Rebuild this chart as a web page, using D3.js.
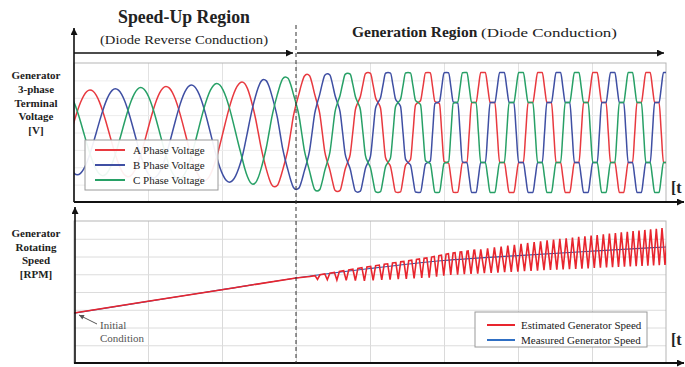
<!DOCTYPE html>
<html><head><meta charset="utf-8">
<script src="https://cdn.jsdelivr.net/npm/d3@7"></script>
<style>
body{margin:0;background:#fff}
svg{display:block}
text{font-family:"Liberation Serif","Times New Roman",serif;fill:#222}
</style>
</head><body>
<svg id="c" width="685" height="367"></svg>
<script>
// ---------------- DATA ----------------
const timeTicks = [0, 1, 2, 3, 4, 5, 6, 7, 8];            // time grid (unlabelled)
const voltTicks = [-400, -300, -200, -100, 0, 100, 200, 300, 400];
const rpmTicks  = [0, 200, 400, 600, 800, 1000, 1200, 1400, 1600];
const regionBoundary = 3;                                  // dashed line (time)

// phase A positive-peak times (each starts one electrical cycle)
const peakTimesA  = [-0.811, 0.216, 1.243, 2.270, 3.149, 3.973, 4.784, 5.527, 6.297, 7.041, 7.757, 8.473];
const peakAmpV    = [235, 245, 265, 290, 335, 345, 345, 345, 345, 345, 345, 345];
const peakStepMix = [0, 0, 0, 0, 0.2, 0.55, 0.9, 1, 1, 1, 1, 1];   // 0 = sine, 1 = six-step
// normalised waveform shapes, 24 samples per cycle (15 deg apart, from the peak)
const sineShape = [1, .966, .866, .707, .5, .259, 0, -.259, -.5, -.707, -.866, -.966,
                   -1, -.966, -.866, -.707, -.5, -.259, 0, .259, .5, .707, .866, .966];
const stepShape = [1, 1, .75, .5, .5, .5, 0, -.5, -.5, -.5, -.75, -1,
                   -1, -1, -.75, -.5, -.5, -.5, 0, .5, .5, .5, .75, 1];
const phaseNames   = ["A Phase Voltage", "B Phase Voltage", "C Phase Voltage"];
const phaseLag     = [0, 8, 16];                             // in shape samples (120 deg = 8)
const phaseColors  = ["#e8393f", "#3f4fa3", "#27a066"];

// generator speed
const speedTimes   = [0, 1, 2, 3, 4, 5, 6, 7, 8];
const measuredRPM  = [563, 695, 826, 958, 1065, 1155, 1210, 1260, 1307];
const rippleTimes  = [3.189, 3.324, 3.457, 3.586, 3.712, 3.836, 3.958, 4.076, 4.192, 4.304,
  4.415, 4.523, 4.628, 4.731, 4.832, 4.931, 5.028, 5.123, 5.218, 5.311, 5.404, 5.497, 5.589,
  5.681, 5.772, 5.862, 5.951, 6.041, 6.130, 6.218, 6.305, 6.393, 6.480, 6.565, 6.651, 6.736,
  6.820, 6.904, 6.988, 7.070, 7.153, 7.235, 7.316, 7.396, 7.477, 7.555, 7.635, 7.714, 7.792,
  7.869, 7.946, 8.023];
const envTimes    = [3.19, 3.9, 4.81, 5.08, 6.43, 7.96];
const envUpperRPM = [975, 1075, 1190, 1235, 1386, 1521];
const envLowerRPM = [945, 925, 962, 992, 1048, 1104];
const speedNames  = ["Estimated Generator Speed", "Measured Generator Speed"];
const speedColors = ["#e8252e", "#2f6fc4"];

// ---------------- CHART ----------------
const svg = d3.select("#c");
const x  = d3.scaleLinear([0, 8], [74, 666]);
const yV = d3.scaleLinear([-400, 400], [202, 63]);
const yS = d3.scaleLinear([0, 1600], [363, 221]);

const defs = svg.append("defs");
defs.append("marker").attr("id", "ah").attr("viewBox", "0 0 10 10")
  .attr("refX", 10).attr("refY", 5).attr("markerWidth", 9).attr("markerHeight", 7)
  .attr("markerUnits", "userSpaceOnUse").attr("orient", "auto")
  .append("path").attr("d", "M0,0L10,5L0,10z").attr("fill", "#111");
defs.append("marker").attr("id", "ahs").attr("viewBox", "0 0 10 10")
  .attr("refX", 10).attr("refY", 5).attr("markerWidth", 6).attr("markerHeight", 5)
  .attr("markerUnits", "userSpaceOnUse").attr("orient", "auto")
  .append("path").attr("d", "M0,0L10,5L0,10z").attr("fill", "#555");
defs.append("clipPath").attr("id", "clipTop").append("rect")
  .attr("x", x(0)).attr("y", yV(400)).attr("width", x(8) - x(0)).attr("height", yV(-400) - yV(400));
defs.append("clipPath").attr("id", "clipBot").append("rect")
  .attr("x", x(0)).attr("y", yS(1600)).attr("width", x(8) - x(0)).attr("height", yS(0) - yS(1600));

// grids via axes
function grid(g, axis) {
  g.call(axis);
  g.select(".domain").remove();
  g.selectAll("text").remove();
}
svg.append("g").attr("transform", `translate(0,${yV(-400)})`)
  .call(grid, d3.axisBottom(x).tickValues(timeTicks.slice(1, -1)).tickSize(-(yV(-400) - yV(400))).tickFormat(""))
  .selectAll("line").attr("stroke", "#e2e2e2");
svg.append("g").attr("transform", `translate(${x(0)},0)`)
  .call(grid, d3.axisLeft(yV).tickValues(voltTicks.slice(1, -1)).tickSize(-(x(8) - x(0))).tickFormat(""))
  .selectAll("line").attr("stroke", "#ececec");
svg.append("g").attr("transform", `translate(0,${yS(0)})`)
  .call(grid, d3.axisBottom(x).tickValues(timeTicks.slice(1, -1)).tickSize(-(yS(0) - yS(1600))).tickFormat(""))
  .selectAll("line").attr("stroke", "#dadada");
svg.append("g").attr("transform", `translate(${x(0)},0)`)
  .call(grid, d3.axisLeft(yS).tickValues(rpmTicks.slice(1, -1)).tickSize(-(x(8) - x(0))).tickFormat(""))
  .selectAll("line").attr("stroke", "#dcdcdc");

// frames
svg.append("rect").attr("x", x(0)).attr("y", yV(400)).attr("width", x(8) - x(0)).attr("height", yV(-400) - yV(400))
  .attr("fill", "none").attr("stroke", "#b5b5b5");
svg.append("rect").attr("x", x(0)).attr("y", yS(1600)).attr("width", x(8) - x(0)).attr("height", yS(0) - yS(1600))
  .attr("fill", "none").attr("stroke", "#b5b5b5");

// ---- voltage waveforms ----
const ampAt = d3.scaleLinear(peakTimesA, peakAmpV);
const mixAt = d3.scaleLinear(peakTimesA, peakStepMix);
const vLine = d3.line().x(d => x(d.t)).y(d => yV(d.v)).curve(d3.curveMonotoneX);
const gV = svg.append("g").attr("clip-path", "url(#clipTop)");
phaseNames.forEach((name, p) => {
  const pts = [];
  for (let k = 0; k < peakTimesA.length - 1; k++) {
    const t0 = peakTimesA[k], t1 = peakTimesA[k + 1];
    for (let j = 0; j < 24; j++) {
      const t = t0 + j / 24 * (t1 - t0);
      const idx = (j - phaseLag[p] + 24) % 24;
      const m = mixAt(t);
      pts.push({t, v: ampAt(t) * ((1 - m) * sineShape[idx] + m * stepShape[idx])});
    }
  }
  gV.append("path").datum(pts).attr("d", vLine).attr("fill", "none")
    .attr("stroke", phaseColors[p]).attr("stroke-width", 1.5);
});

// ---- speed ----
const gS = svg.append("g").attr("clip-path", "url(#clipBot)");
const measured = speedTimes.map((t, i) => ({t, v: measuredRPM[i]}));
const measAt = d3.scaleLinear(speedTimes, measuredRPM);
const upAt = d3.scaleLinear(envTimes, envUpperRPM);
const lowAt = d3.scaleLinear(envTimes, envLowerRPM);
const flatAt = d3.scaleLinear([3.19, 5.0, 5.5], [0.5, 0.35, 0.05]).clamp(true);
const est = speedTimes.filter(t => t < rippleTimes[0]).map(t => ({t, v: measAt(t)}));
for (let i = 0; i < rippleTimes.length - 1; i++) {
  const t0 = rippleTimes[i], dt = rippleTimes[i + 1] - t0, f = flatAt(t0);
  est.push({t: t0, v: upAt(t0)});
  if (f > 0.08) est.push({t: t0 + f * dt, v: upAt(t0 + f * dt)});
  const tb = t0 + (f + (1 - f) / 2) * dt;
  est.push({t: tb, v: lowAt(tb)});
}
est.push({t: rippleTimes[rippleTimes.length - 1], v: upAt(rippleTimes[rippleTimes.length - 1])});
gS.append("path").datum(measured)
  .attr("d", d3.line().x(d => x(d.t)).y(d => yS(d.v)).curve(d3.curveMonotoneX))
  .attr("fill", "none").attr("stroke", "#2c55a8").attr("stroke-width", 1.2);
gS.append("path").datum(est).attr("d", d3.line().x(d => x(d.t)).y(d => yS(d.v))).attr("fill", "none")
  .attr("stroke", speedColors[0]).attr("stroke-width", 1.6);

// ---- axes arrows ----
const ax = svg.append("g").attr("stroke", "#111").attr("fill", "none");
ax.append("line").attr("x1", x(0)).attr("y1", yV(-400)).attr("x2", x(0)).attr("y2", 28)
  .attr("stroke-width", 1.6).attr("marker-end", "url(#ah)");
ax.append("line").attr("x1", x(0)).attr("y1", yV(-400)).attr("x2", 684).attr("y2", yV(-400))
  .attr("stroke-width", 2).attr("marker-end", "url(#ah)");
ax.append("line").attr("x1", x(0) + 1).attr("y1", yS(0)).attr("x2", x(0) + 1).attr("y2", 207)
  .attr("stroke-width", 1.6).attr("marker-end", "url(#ah)");
ax.append("line").attr("x1", x(0)).attr("y1", yS(0)).attr("x2", 684).attr("y2", yS(0))
  .attr("stroke-width", 2).attr("marker-end", "url(#ah)");
// region arrows
ax.append("line").attr("x1", x(0)).attr("y1", 53).attr("x2", x(regionBoundary) - 3).attr("y2", 53)
  .attr("stroke-width", 1.5).attr("marker-end", "url(#ah)");
ax.append("line").attr("x1", x(regionBoundary) + 1).attr("y1", 53).attr("x2", 664).attr("y2", 53)
  .attr("stroke-width", 1.5).attr("marker-end", "url(#ah)");
// boundary
svg.append("line").attr("x1", x(regionBoundary)).attr("x2", x(regionBoundary))
  .attr("y1", 25).attr("y2", yS(0)).attr("stroke", "#333").attr("stroke-width", 1)
  .attr("stroke-dasharray", "4,3");

// ---- texts ----
svg.append("text").attr("x", 184).attr("y", 23).attr("text-anchor", "middle")
  .attr("font-size", 17.8).attr("font-weight", "bold").text("Speed-Up Region");
svg.append("text").attr("x", 100).attr("y", 44).attr("font-size", 13)
  .attr("textLength", 168).attr("lengthAdjust", "spacingAndGlyphs").text("(Diode Reverse Conduction)");
svg.append("text").attr("x", 352).attr("y", 37).attr("font-size", 15.5).attr("font-weight", "bold")
  .text("Generation Region");
svg.append("text").attr("x", 481).attr("y", 37).attr("font-size", 12.5)
  .attr("textLength", 136).attr("lengthAdjust", "spacingAndGlyphs").text("(Diode Conduction)");

const lab1 = ["Generator", "3-phase", "Terminal", "Voltage", "[V]"];
lab1.forEach((s, i) => svg.append("text").attr("x", 36).attr("y", 79 + i * 13.8)
  .attr("text-anchor", "middle").attr("font-size", 11).attr("font-weight", "bold").text(s));
const lab2 = ["Generator", "Rotating", "Speed", "[RPM]"];
lab2.forEach((s, i) => svg.append("text").attr("x", 36).attr("y", 237 + i * 13.5)
  .attr("text-anchor", "middle").attr("font-size", 11).attr("font-weight", "bold").text(s));

svg.append("text").attr("x", 671).attr("y", 193).attr("font-size", 16).attr("font-weight", "bold").text("[t");
svg.append("text").attr("x", 671).attr("y", 345).attr("font-size", 16).attr("font-weight", "bold").text("[t");

// legends
const lg1 = svg.append("g");
lg1.append("rect").attr("x", 85).attr("y", 140).attr("width", 133).attr("height", 50)
  .attr("fill", "#fff").attr("fill-opacity", 0.92).attr("stroke", "#9a9a9a");
phaseNames.forEach((n, i) => {
  lg1.append("line").attr("x1", 95).attr("x2", 125).attr("y1", 150 + i * 15).attr("y2", 150 + i * 15)
    .attr("stroke", phaseColors[i]).attr("stroke-width", 2);
  lg1.append("text").attr("x", 133).attr("y", 154 + i * 15).attr("font-size", 11).text(n);
});
const lg2 = svg.append("g");
lg2.append("rect").attr("x", 475).attr("y", 312).attr("width", 172).attr("height", 35)
  .attr("fill", "#fff").attr("fill-opacity", 0.92).attr("stroke", "#9a9a9a");
speedNames.forEach((n, i) => {
  lg2.append("line").attr("x1", 487).attr("x2", 515).attr("y1", 325 + i * 15).attr("y2", 325 + i * 15)
    .attr("stroke", speedColors[i]).attr("stroke-width", 2);
  lg2.append("text").attr("x", 521).attr("y", 329 + i * 15).attr("font-size", 11).text(n);
});

// initial condition annotation
svg.append("line").attr("x1", 97).attr("y1", 324).attr("x2", 79).attr("y2", 315)
  .attr("stroke", "#555").attr("stroke-width", 1).attr("marker-end", "url(#ahs)");
svg.append("text").attr("x", 100).attr("y", 329).attr("font-size", 11).style("fill", "#555").text("Initial");
svg.append("text").attr("x", 100).attr("y", 342).attr("font-size", 11).style("fill", "#555").text("Condition");
</script>
</body></html>
